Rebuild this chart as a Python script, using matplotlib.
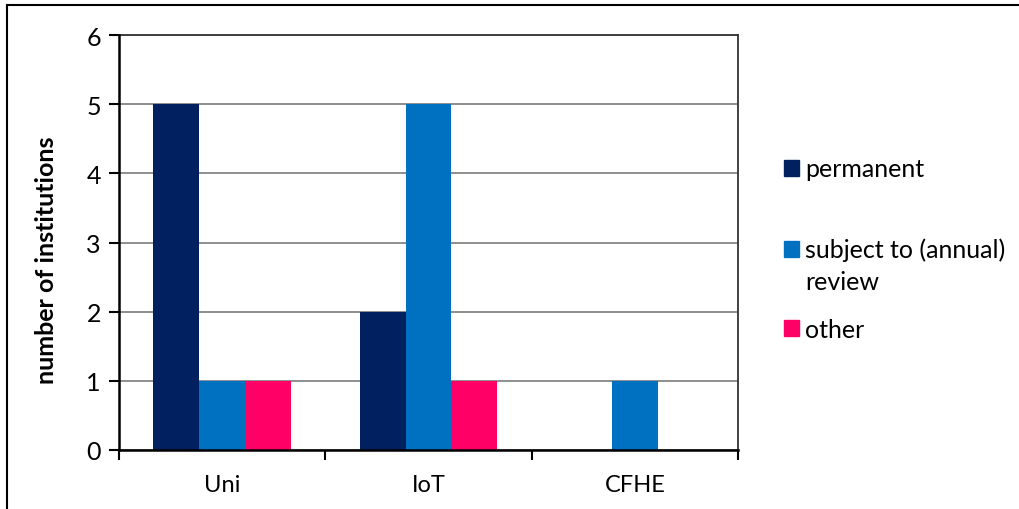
import matplotlib
matplotlib.use("Agg")
import matplotlib.pyplot as plt
from matplotlib.patches import Rectangle
from matplotlib.legend_handler import HandlerPatch
import numpy as np

plt.rcParams['font.family'] = ['Lato', 'DejaVu Sans']

categories = ["Uni", "IoT", "CFHE"]
series_names = ["permanent", "subject to (annual)\nreview", "other"]
permanent = [5, 2, 0]
subject_review = [1, 5, 1]
other = [1, 1, 0]
colors = ["#002060", "#0070C0", "#FF0066"]

W, H = 1020, 510
fig = plt.figure(figsize=(W / 100, H / 100), dpi=100)
ax = fig.add_axes([119 / W, 1 - 451 / H, 619 / W, 415 / H])

x = np.arange(len(categories))
w = 0.222
for i, (vals, name, c) in enumerate(zip([permanent, subject_review, other], series_names, colors)):
    ax.bar(x + (i - 1) * w, vals, width=w, color=c, label=name, zorder=3)

ax.set_xlim(-0.5, len(categories) - 0.5)
ax.set_ylim(0, 6)
ax.set_yticks(range(0, 7))
ax.set_xticks(x)
ax.set_xticklabels(categories)
ax.set_xticks(np.arange(-0.5, len(categories)), minor=True)
ax.tick_params(axis='x', which='major', length=0, pad=17, labelsize=17)
ax.tick_params(axis='x', which='minor', length=7, width=1.5, direction='out')
ax.tick_params(axis='y', length=7, width=1.5, direction='out', labelsize=18, pad=6)
ax.yaxis.grid(True, color='#868686', linewidth=1.3, zorder=0)

for s in ['left', 'bottom']:
    ax.spines[s].set_linewidth(1.8)
    ax.spines[s].set_zorder(4)
for s in ['top', 'right']:
    ax.spines[s].set_linewidth(1.3)
    ax.spines[s].set_color('#333333')

ax.set_ylabel("number of institutions", fontsize=18, fontweight='bold')
ax.yaxis.set_label_coords((58 - 119) / 619, (451 - 260) / 415)


def first_line_square(legend, orig_handle, xdescent, ydescent, width, height, fontsize):
    # keep the square level with the first line of a two-line label
    return Rectangle((-xdescent, -ydescent + 12), width, height)


# legend entries, spaced like the original
legend_y = [170, 266, 330]
for name, c, ly in zip(series_names, colors, legend_y):
    hm = {}
    if "\n" in name:
        hm = {Rectangle: HandlerPatch(patch_func=first_line_square)}
    leg = fig.legend([Rectangle((0, 0), 1, 1, color=c)], [name], loc='center left',
                     bbox_to_anchor=(784 / W, 1 - ly / H), handler_map=hm,
                     frameon=False, fontsize=18, handlelength=0.6, handleheight=0.6,
                     handletextpad=0.25, borderpad=0, borderaxespad=0)
    for t in leg.get_texts():
        t.set_linespacing(1.45)

# outer chart border
fig.patches.append(Rectangle((7 / W, -0.1), 1.2, 1 - 6 / H + 0.1,
                             transform=fig.transFigure, fill=False,
                             edgecolor='black', linewidth=1.5))

fig.savefig("out.png", dpi=100)
